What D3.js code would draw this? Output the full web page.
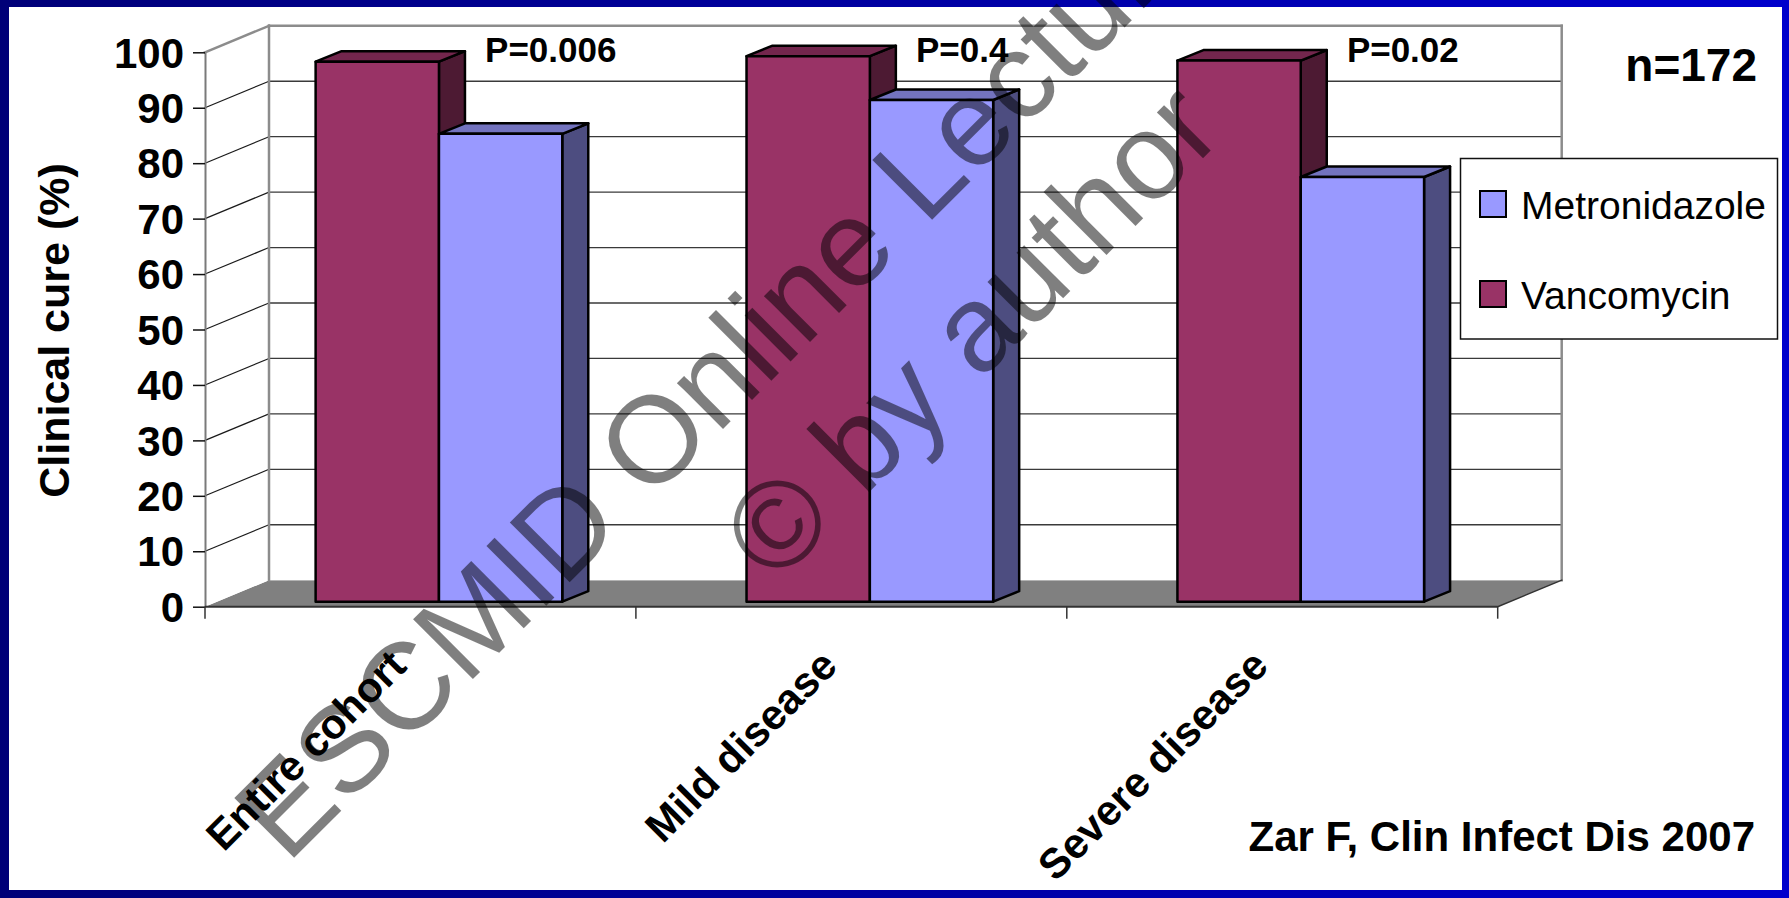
<!DOCTYPE html>
<html>
<head>
<meta charset="utf-8">
<script src="https://cdn.jsdelivr.net/npm/d3@7"></script>
<style>
  html, body { margin: 0; padding: 0; background: #fff; }
  svg { display: block; }
</style>
</head>
<body>
<svg id="chart" width="1789" height="898"></svg>
<script>
// ---- data ----
const categories = ["Entire cohort", "Mild disease", "Severe disease"];
const seriesNames = ["Vancomycin", "Metronidazole"];
const vancomycin = [97.4, 98.4, 97.6];
const metronidazole = [84.4, 90.5, 76.6];
const pValueLabels = ["P=0.006", "P=0.4", "P=0.02"];
const yTickValues = [0, 10, 20, 30, 40, 50, 60, 70, 80, 90, 100];
const legendEntries = ["Metronidazole", "Vancomycin"];
const sampleLabel = "n=172";
const sourceLabel = "Zar F, Clin Infect Dis 2007";
const yAxisTitle = "Clinical cure (%)";
const watermarkLines = ["ESCMID Online Lecture Library", "\u00A9 by author"];

const valuesBySeries = { Vancomycin: vancomycin, Metronidazole: metronidazole };

// face colours of the 3-D columns
const palette = {
  Vancomycin:    { front: "#993366", top: "#73264D", side: "#4D1A33" },
  Metronidazole: { front: "#9999FF", top: "#7373BF", side: "#4D4D80" }
};

const W = 1789, H = 898;
const FONT = "'Liberation Sans', Arial, Helvetica, sans-serif";
const svg = d3.select("#chart");

// ---- slide frame ----
const defs = svg.append("defs");
const grad = defs.append("linearGradient").attr("id", "frameGrad")
  .attr("x1", 0).attr("x2", 1).attr("y1", 0).attr("y2", 0);
grad.append("stop").attr("offset", 0).attr("stop-color", "#000078");
grad.append("stop").attr("offset", 1).attr("stop-color", "#0000CC");
svg.append("rect").attr("width", W).attr("height", H).attr("fill", "url(#frameGrad)");
svg.append("rect").attr("x", 9).attr("y", 7).attr("width", 1773).attr("height", 883).attr("fill", "#fff");

// ---- 3-D plot geometry ----
const front = { left: 205, right: 1497.7, bottom: 606.7, top: 52.3 };
const depth = { dx: 64, dy: -26.5 };       // wall depth
const barPlane = { dx: 18.5, dy: -5 };     // columns' front face offset
const barDepth = { dx: 26, dy: -10.5 };    // columns' thickness

const x0 = d3.scaleBand().domain(categories).range([front.left, front.right]).paddingInner(0).paddingOuter(0);
const x1 = d3.scaleBand().domain(seriesNames).range([0, x0.bandwidth()]).paddingInner(0).paddingOuter(0.747);
const y = d3.scaleLinear().domain([0, 100]).range([front.bottom, front.top]);

const pts = a => a.map(p => p.join(",")).join(" ");
const bx0 = front.left + depth.dx, bx1 = front.right + depth.dx;

const walls = svg.append("g");
// floor
walls.append("polygon")
  .attr("points", pts([[front.left, y(0)], [front.right, y(0)], [bx1, y(0) + depth.dy], [bx0, y(0) + depth.dy]]))
  .attr("fill", "#808080");
// back wall
walls.append("rect").attr("x", bx0).attr("y", y(100) + depth.dy)
  .attr("width", bx1 - bx0).attr("height", y(0) - y(100)).attr("fill", "#fff");
// side wall
walls.append("polygon")
  .attr("points", pts([[front.left, y(100)], [bx0, y(100) + depth.dy], [bx0, y(0) + depth.dy], [front.left, y(0)]]))
  .attr("fill", "#fff");

// gridlines on back and side walls
const gridVals = yTickValues.filter(v => v > 0 && v < 100);
walls.selectAll("line.gback").data(gridVals).join("line").attr("class", "gback")
  .attr("x1", bx0).attr("x2", bx1)
  .attr("y1", d => y(d) + depth.dy).attr("y2", d => y(d) + depth.dy)
  .attr("stroke", "#3a3a3a").attr("stroke-width", 1.3);
walls.selectAll("line.gside").data(gridVals).join("line").attr("class", "gside")
  .attr("x1", front.left).attr("x2", bx0)
  .attr("y1", d => y(d)).attr("y2", d => y(d) + depth.dy)
  .attr("stroke", "#1a1a1a").attr("stroke-width", 1.2);

// wall edges
const edge = (a, b, c, w) => walls.append("line")
  .attr("x1", a[0]).attr("y1", a[1]).attr("x2", b[0]).attr("y2", b[1])
  .attr("stroke", c).attr("stroke-width", w).attr("stroke-linecap", "square");
edge([bx0, y(100) + depth.dy], [bx1, y(100) + depth.dy], "#8c8c8c", 2.5);
edge([bx1, y(100) + depth.dy], [bx1, y(0) + depth.dy], "#8c8c8c", 2.5);
edge([bx0, y(100) + depth.dy], [bx0, y(0) + depth.dy], "#8c8c8c", 2.5);
edge([front.left, y(100)], [bx0, y(100) + depth.dy], "#8c8c8c", 2.5);
edge([front.right, y(0)], [bx1, y(0) + depth.dy], "#333", 1.5);

// ---- y axis ----
const yAxis = d3.axisLeft(y).tickValues(yTickValues).tickSize(12).tickSizeOuter(0).tickPadding(9);
const yg = svg.append("g").attr("transform", `translate(${front.left},0)`).call(yAxis);
yg.select(".domain").attr("stroke", "#7a7a7a").attr("stroke-width", 2);
yg.selectAll(".tick line").attr("stroke", "#111").attr("stroke-width", 1.5);
yg.selectAll(".tick text").attr("font-family", FONT).attr("font-weight", "bold")
  .attr("font-size", 42).attr("fill", "#000").attr("dy", "0.35em");

svg.append("text")
  .attr("transform", `translate(69,${(y(0) + y(100)) / 2 + 1}) rotate(-90)`)
  .attr("text-anchor", "middle").attr("font-family", FONT).attr("font-weight", "bold")
  .attr("font-size", 43).attr("fill", "#000").text(yAxisTitle);

// ---- x axis ----
const xg = svg.append("g");
xg.append("line").attr("x1", front.left).attr("x2", front.right)
  .attr("y1", y(0)).attr("y2", y(0)).attr("stroke", "#333").attr("stroke-width", 2);
const boundaries = categories.map(c => x0(c)).concat([x0.range()[1]]);
xg.selectAll("line.xt").data(boundaries).join("line").attr("class", "xt")
  .attr("x1", d => d).attr("x2", d => d).attr("y1", y(0)).attr("y2", y(0) + 12)
  .attr("stroke", "#333").attr("stroke-width", 1.5);
xg.selectAll("text.cat").data(categories).join("text").attr("class", "cat")
  .attr("transform", d => `translate(${x0(d) + x0.bandwidth() / 2 - 12},668) rotate(-45)`)
  .attr("text-anchor", "end").attr("font-family", FONT).attr("font-weight", "bold")
  .attr("font-size", 42).attr("fill", "#000").text(d => d);

// ---- columns ----
const bars = svg.append("g").attr("stroke", "#000").attr("stroke-width", 2.5).attr("stroke-linejoin", "round");
categories.forEach((c, i) => {
  seriesNames.forEach(s => {
    const v = valuesBySeries[s][i];
    const xl = x0(c) + x1(s) + barPlane.dx;
    const w = x1.bandwidth();
    const yb = y(0) + barPlane.dy;
    const yt = y(v) + barPlane.dy;
    const col = palette[s];
    const g = bars.append("g");
    g.append("polygon").attr("fill", col.side)
      .attr("points", pts([[xl + w, yt], [xl + w + barDepth.dx, yt + barDepth.dy], [xl + w + barDepth.dx, yb + barDepth.dy], [xl + w, yb]]));
    g.append("polygon").attr("fill", col.top)
      .attr("points", pts([[xl, yt], [xl + w, yt], [xl + w + barDepth.dx, yt + barDepth.dy], [xl + barDepth.dx, yt + barDepth.dy]]));
    g.append("rect").attr("fill", col.front)
      .attr("x", xl).attr("y", yt).attr("width", w).attr("height", yb - yt);
  });
});

// ---- annotations ----
svg.selectAll("text.pval").data(categories).join("text").attr("class", "pval")
  .attr("x", d => x0(d) + x0.bandwidth() * 0.65).attr("y", 62)
  .attr("font-family", FONT).attr("font-weight", "bold").attr("font-size", 35).attr("fill", "#000")
  .text((d, i) => pValueLabels[i]);

svg.append("text").attr("x", 1757).attr("y", 81).attr("text-anchor", "end")
  .attr("font-family", FONT).attr("font-weight", "bold").attr("font-size", 46).attr("fill", "#000")
  .text(sampleLabel);

svg.append("text").attr("x", 1755).attr("y", 851).attr("text-anchor", "end")
  .attr("font-family", FONT).attr("font-weight", "bold").attr("font-size", 42).attr("fill", "#000")
  .text(sourceLabel);

// ---- legend ----
const lg = svg.append("g");
lg.append("rect").attr("x", 1460.5).attr("y", 158.5).attr("width", 317).attr("height", 180.5)
  .attr("fill", "#fff").attr("stroke", "#111").attr("stroke-width", 1.5);
const legendY = d3.scalePoint().domain(legendEntries).range([204, 294]);
legendEntries.forEach(name => {
  lg.append("rect").attr("x", 1480).attr("y", legendY(name) - 13).attr("width", 26).attr("height", 26)
    .attr("fill", palette[name].front).attr("stroke", "#000").attr("stroke-width", 2);
  lg.append("text").attr("x", 1521).attr("y", legendY(name) + 15)
    .attr("font-family", FONT).attr("font-size", 39).attr("fill", "#000").text(name);
});

// ---- watermark ----
const wm = svg.append("g").attr("transform", "translate(896,256) rotate(-45)")
  .attr("font-family", FONT).attr("font-size", 123).attr("fill", "rgba(0,0,0,0.5)")
  .attr("text-anchor", "middle");
wm.selectAll("text").data(watermarkLines).join("text")
  .attr("x", 0).attr("y", (d, i) => i * 148).text(d => d);
</script>
</body>
</html>
